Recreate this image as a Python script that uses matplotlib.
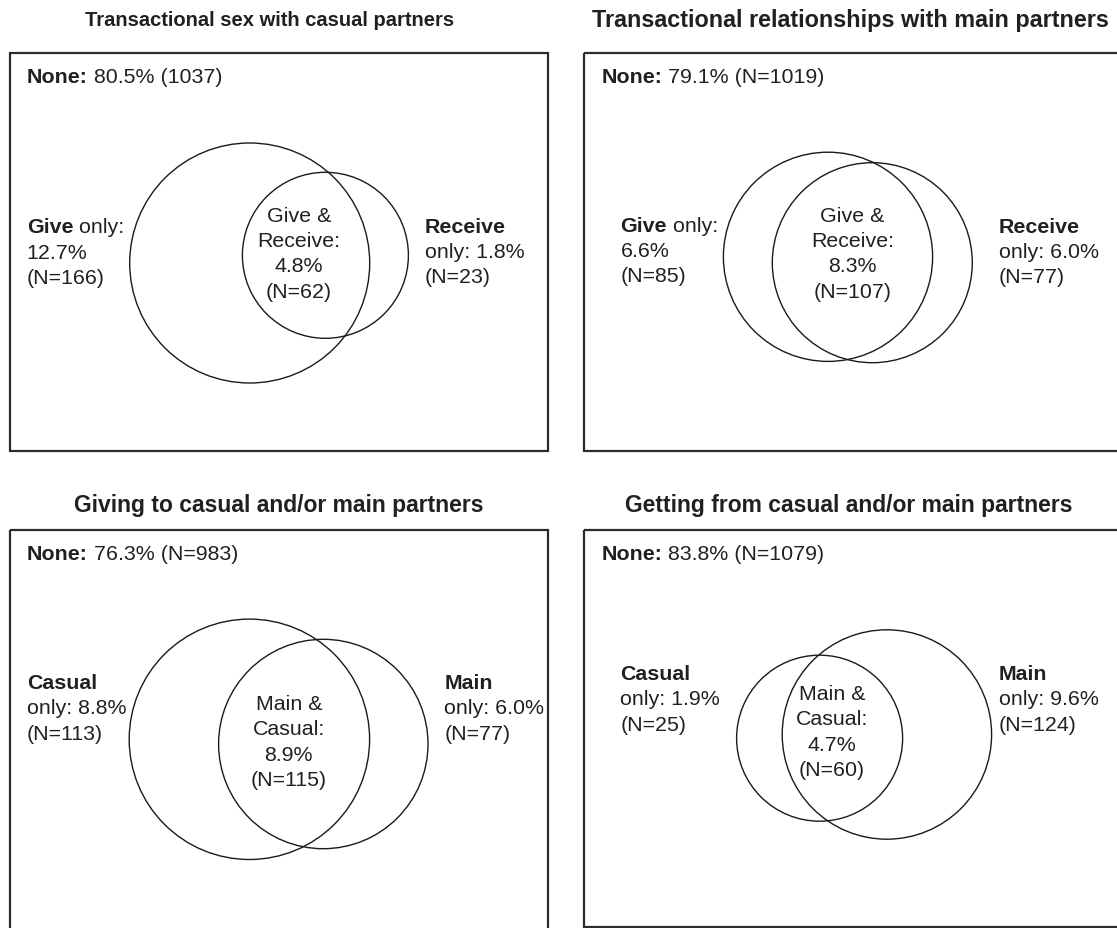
import matplotlib
matplotlib.use("Agg")
import matplotlib.pyplot as plt
from matplotlib.patches import Circle, Rectangle

plt.rcParams['font.family'] = ['Liberation Sans', 'DejaVu Sans']

# data
titles = ["Transactional sex with casual partners",
          "Transactional relationships with main partners",
          "Giving to casual and/or main partners",
          "Getting from casual and/or main partners"]
none_pct = [80.5, 79.1, 76.3, 83.8]
none_n = [1037, 1019, 983, 1079]
left_name = ["Give", "Give", "Casual", "Casual"]
right_name = ["Receive", "Receive", "Main", "Main"]
left_pct = [12.7, 6.6, 8.8, 1.9]
left_n = [166, 85, 113, 25]
both_pct = [4.8, 8.3, 8.9, 4.7]
both_n = [62, 107, 115, 60]
right_pct = [1.8, 6.0, 6.0, 9.6]
right_n = [23, 77, 77, 124]

# layout in pixels of the 1117 x 929 picture (y grows downwards)
title_xy = [(269.6, 26), (850, 26.7), (279, 511.7), (849.2, 511.7)]
title_size = [14.5, 16.8, 16.5, 16.5]
box = [(10, 54, 548, 452), (584, 54, 1140, 452),
       (10, 531, 548, 960), (584, 531, 1140, 928)]
none_xy = [(26.8, 83.3), (601.6, 82.7), (26.8, 560), (601.6, 560)]
circ_left = [(249.7, 264, 120), (828, 257.8, 104.6),
             (249.4, 740.3, 120.2), (819.6, 739.2, 83)]
circ_right = [(325.4, 256.3, 83), (872.3, 263.7, 100),
              (323.3, 745, 104.7), (886.9, 735.5, 104.7)]
left_xy = [(26.8, 233.3), (620.5, 231.7), (26.8, 689), (620.5, 680)]
mid_xy = [(299, 221.7), (852.4, 221.7), (288.8, 710), (831.9, 700)]
right_xy = [(424.8, 232.7), (999, 232.7), (444.5, 689), (999, 680)]
pitch = 25.3

ink = '#231f20'
fs = 15.4

fig = plt.figure(figsize=(11.17, 9.29), dpi=100)
ax = fig.add_axes([0, 0, 1, 1])
ax.set_xlim(0, 1117)
ax.set_ylim(929, 0)
ax.axis('off')


def line(x, y, parts):
    # parts: list of (text, bold); later parts follow the previous one
    prev = ax.text(x, y, parts[0][0], fontsize=fs, color=ink, va='baseline',
                   fontweight='bold' if parts[0][1] else 'normal')
    for txt, bold in parts[1:]:
        prev = ax.annotate(txt, xy=(1, 0), xycoords=prev, va='bottom',
                           ha='left', fontsize=fs, color=ink,
                           fontweight='bold' if bold else 'normal')


for i in range(4):
    tx, ty = title_xy[i]
    ax.text(tx, ty, titles[i], fontsize=title_size[i], fontweight='bold',
            color=ink, ha='center', va='baseline')

    x0, y0, x1, y1 = box[i]
    ax.add_patch(Rectangle((x0, y0), x1 - x0, y1 - y0, fill=False,
                           ec='#2b2b2b', lw=1.6))
    for cx, cy, r in (circ_left[i], circ_right[i]):
        ax.add_patch(Circle((cx, cy), r, fill=False, ec='#1a1a1a', lw=1.0))

    nx, ny = none_xy[i]
    ntxt = f"({none_n[i]})" if i == 0 else f"(N={none_n[i]})"
    line(nx, ny, [("None:", True), (f" {none_pct[i]}% {ntxt}", False)])

    lx, ly = left_xy[i]
    if i < 2:
        line(lx, ly, [(left_name[i], True), (" only:", False)])
        line(lx, ly + pitch, [(f"{left_pct[i]}%", False)])
    else:
        line(lx, ly, [(left_name[i], True)])
        line(lx, ly + pitch, [(f"only: {left_pct[i]}%", False)])
    line(lx, ly + 2 * pitch, [(f"(N={left_n[i]})", False)])

    rx, ry = right_xy[i]
    line(rx, ry, [(right_name[i], True)])
    line(rx, ry + pitch, [(f"only: {right_pct[i]}%", False)])
    line(rx, ry + 2 * pitch, [(f"(N={right_n[i]})", False)])

    mx, my = mid_xy[i]
    if i < 2:
        mid = ["Give &", "Receive:"]
    else:
        mid = ["Main &", "Casual:"]
    mid += [f"{both_pct[i]}%", f"(N={both_n[i]})"]
    for k, s in enumerate(mid):
        ax.text(mx, my + k * pitch, s, fontsize=fs, color=ink,
                ha='center', va='baseline')

fig.savefig("out.png", dpi=100)
